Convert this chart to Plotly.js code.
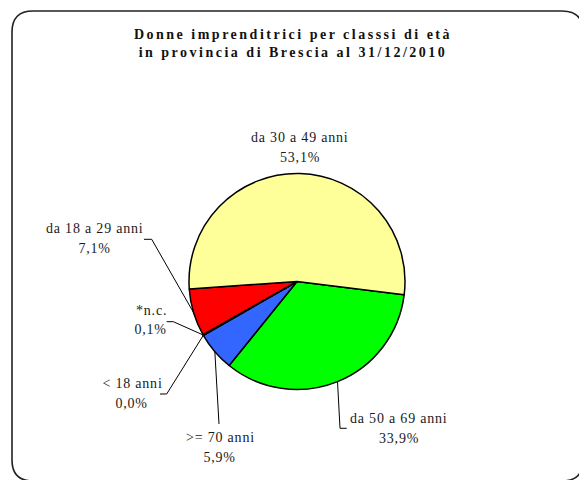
<!DOCTYPE html>
<html><head><meta charset="utf-8">
<script src="https://cdn.plot.ly/plotly-3.0.1.min.js"></script>
<style>
body{margin:0;background:#fff;}
#chart .gtitle{letter-spacing:2.5px;}
#chart .annotation-text{letter-spacing:0.8px;}
</style></head>
<body><div id="chart" style="width:579px;height:480px;"></div>
<script>
// ---- data ----
const labels = ["da 50 a 69 anni", ">= 70 anni", "< 18 anni", "*n.c.", "da 18 a 29 anni", "da 30 a 49 anni"];
const values = [33.9, 5.9, 0.0, 0.1, 7.1, 53.1];
const percentText = ["33,9%", "5,9%", "0,0%", "0,1%", "7,1%", "53,1%"];
const colors = ["#00FF00", "#3366FF", "#C0C0C0", "#FFFFFF", "#FF0000", "#FFFF99"];
const titleLines = ["Donne imprenditrici per classsi di età", "in provincia di Brescia al 31/12/2010"];

// ---- layout constants (pixels) ----
const W = 579, H = 480, CX = 297, CY = 281.5, R = 108, ROT = 97;
const labelPos = [ // [x, y line1, y line2]
  [399, 418, 438],
  [220, 437, 457],
  [132, 383, 403],
  [151, 310, 329],
  [95, 228, 248],
  [300, 137, 157]
];
const leaderPts = [ // label-side points of each leader line
  [[346.7, 428.3], [340, 428.3]],
  [[219, 424]],
  [[160, 394], [166.7, 394]],
  [[166.7, 321.7], [173.3, 321.7]],
  [[144, 239.3], [151.7, 239.3]],
  null
];

const px = x => x / W, py = y => 1 - y / H;
const total = values.reduce((a, b) => a + b, 0);

const annotations = [];
const shapes = [];
let cum = 0;
values.forEach((v, i) => {
  const mid = (ROT + 360 * (cum + v / 2) / total) * Math.PI / 180;
  cum += v;
  const edge = [CX + R * Math.sin(mid), CY - R * Math.cos(mid)];
  const [lx, y1, y2] = labelPos[i];
  const font = {family: "Liberation Serif", size: 14, color: "#1a1a1a"};
  annotations.push({text: labels[i], x: px(lx), y: py(y1), xref: "paper", yref: "paper",
    showarrow: false, xanchor: "center", yanchor: "middle", font});
  annotations.push({text: percentText[i], x: px(lx), y: py(y2), xref: "paper", yref: "paper",
    showarrow: false, xanchor: "center", yanchor: "middle", font});
  if (leaderPts[i]) {
    const pts = leaderPts[i].concat([edge]);
    const path = pts.map((p, k) => (k ? "L" : "M") + px(p[0]).toFixed(5) + "," + py(p[1]).toFixed(5)).join(" ");
    shapes.push({type: "path", xref: "paper", yref: "paper", path, line: {color: "#000", width: 1}});
  }
});

// rounded frame
(function () {
  const x0 = 12, y0 = 11, x1 = 583, y1 = 481, r = 21;
  const P = (x, y) => px(x).toFixed(5) + "," + py(y).toFixed(5);
  const path = "M" + P(x0 + r, y0) + " L" + P(x1 - r, y0) + " Q" + P(x1, y0) + " " + P(x1, y0 + r) +
    " L" + P(x1, y1 - r) + " Q" + P(x1, y1) + " " + P(x1 - r, y1) +
    " L" + P(x0 + r, y1) + " Q" + P(x0, y1) + " " + P(x0, y1 - r) +
    " L" + P(x0, y0 + r) + " Q" + P(x0, y0) + " " + P(x0 + r, y0) + " Z";
  shapes.push({type: "path", xref: "paper", yref: "paper", path, line: {color: "#222", width: 1.6}});
})();

const trace = {
  type: "pie",
  labels: labels,
  values: values,
  sort: false,
  direction: "clockwise",
  rotation: ROT,
  textinfo: "none",
  textposition: "inside",
  hoverinfo: "skip",
  showlegend: false,
  marker: {colors: colors, line: {color: "#000", width: 1.5}},
  domain: {x: [(CX - R) / W, (CX + R) / W], y: [1 - (CY + R) / H, 1 - (CY - R) / H]}
};

const layout = {
  width: W, height: H,
  margin: {l: 0, r: 0, t: 0, b: 0},
  paper_bgcolor: "#fff",
  showlegend: false,
  title: {text: titleLines.join("<br>"), x: 0.506, xanchor: "center", xref: "paper",
    y: 1 - 39 / H, yref: "container", yanchor: "top",
    font: {family: "Liberation Serif", size: 14, color: "#111", weight: "bold"}},
  annotations, shapes
};

Plotly.newPlot("chart", [trace], layout, {staticPlot: true});
</script>
</body></html>
